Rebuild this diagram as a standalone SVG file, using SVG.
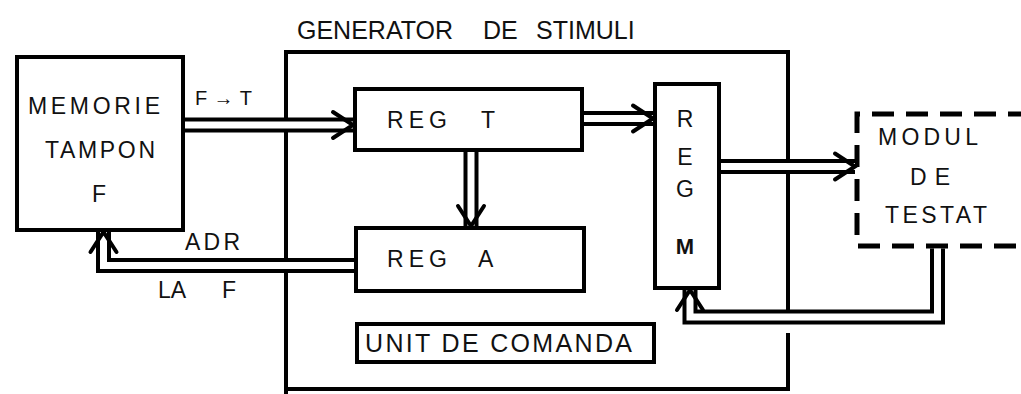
<svg xmlns="http://www.w3.org/2000/svg" xmlns:xlink="http://www.w3.org/1999/xlink" width="1021" height="394" viewBox="0 0 1021 394">
  <style>
    .box { fill: #fff; stroke: #000; stroke-width: 4; }
    .frame { fill: none; stroke: #000; stroke-width: 4; }
    .dash { fill: none; stroke: #000; stroke-width: 5; stroke-dasharray: 22 12; }
    .bus-o { fill: none; stroke: #000; stroke-width: 15; stroke-linejoin: miter; }
    .bus-i { fill: none; stroke: #fff; stroke-width: 7; stroke-linejoin: miter; }
    .head { fill: none; stroke: #000; stroke-width: 4; stroke-linejoin: miter; stroke-linecap: round; }
    text { font-family: "Liberation Sans", Arial, sans-serif; fill: #111; font-size: 23px; }
    .t20 { font-size: 20px; }
    .t25 { font-size: 25px; }
    .mid { text-anchor: middle; }
    .bold { font-weight: bold; font-size: 22px; }
  </style>
  <defs>
    <!-- open chevron arrowhead, tip at origin, pointing along +x -->
    <polyline id="chev" class="head" points="-20,-13 0,0 -20,13"/>
  </defs>

  <!-- enclosing frame -->
  <g id="generator">
    <path class="frame" d="M286,394 V52 H788 V316 M788,333 V389 H286"/>
    <text class="t25" y="39"><tspan x="297">GENERATOR</tspan> <tspan x="483">DE</tspan> <tspan x="536">STIMULI</tspan></text>
  </g>

  <g id="memorie">
    <rect class="box" x="17" y="57" width="166" height="173"/>
    <text x="28" y="114" textLength="132" lengthAdjust="spacing">MEMORIE</text>
    <text x="45" y="158" textLength="110" lengthAdjust="spacing">TAMPON</text>
    <text x="92" y="202">F</text>
  </g>

  <g id="reg-t">
    <rect class="box" x="355" y="89" width="227" height="61"/>
    <text x="387" y="128"><tspan textLength="60" lengthAdjust="spacing">REG</tspan> <tspan x="481">T</tspan></text>
  </g>

  <g id="reg-a">
    <rect class="box" x="356" y="228" width="228" height="63"/>
    <text x="387" y="267"><tspan textLength="60" lengthAdjust="spacing">REG</tspan> <tspan x="478">A</tspan></text>
  </g>

  <g id="reg-m">
    <rect class="box" x="655" y="84" width="64" height="204"/>
    <text class="mid" x="685" y="127">R</text>
    <text class="mid" x="685" y="165">E</text>
    <text class="mid" x="685" y="197">G</text>
    <text class="mid bold" x="685" y="254">M</text>
  </g>

  <g id="unitate-comanda">
    <rect class="box" x="357" y="324" width="297" height="38"/>
    <text class="t25" x="365" y="352" textLength="267" lengthAdjust="spacing">UNIT DE COMANDA</text>
  </g>

  <g id="modul-testat">
    <path class="dash" d="M1030,114 H857 V246 H1030"/>
    <text x="878" y="145" textLength="100" lengthAdjust="spacing">MODUL</text>
    <text x="910" y="185" textLength="40" lengthAdjust="spacing">DE</text>
    <text x="885" y="223" textLength="102" lengthAdjust="spacing">TESTAT</text>
  </g>

  <!-- double-line buses: black outline with white core, then chevron heads -->
  <g id="connectors">
    <path class="bus-o" d="M185,125 H353"/>
    <path class="bus-i" d="M185,125 H353"/>
    <use xlink:href="#chev" transform="translate(353,125)"/>

    <path class="bus-o" d="M584,118.5 H653"/>
    <path class="bus-i" d="M584,118.5 H653"/>
    <use xlink:href="#chev" transform="translate(653,118.5)"/>

    <path class="bus-o" d="M471,152 V226"/>
    <path class="bus-i" d="M471,152 V226"/>
    <use xlink:href="#chev" transform="translate(471,226) rotate(90)"/>

    <path class="bus-o" d="M721,166.5 H855"/>
    <path class="bus-i" d="M721,166.5 H855"/>
    <use xlink:href="#chev" transform="translate(855,166.5)"/>

    <path class="bus-o" d="M354,265.5 H103.5 V232"/>
    <path class="bus-i" d="M354,265.5 H103.5 V232"/>
    <use xlink:href="#chev" transform="translate(103.5,232) rotate(-90)"/>

    <path class="bus-o" d="M937.5,248.5 V317 H690 V290"/>
    <path class="bus-i" d="M937.5,248.5 V317 H690 V290"/>
    <use xlink:href="#chev" transform="translate(690,290) rotate(-90)"/>

    <text class="t20" x="195" y="105" textLength="57" lengthAdjust="spacing">F→T</text>
    <text x="185" y="250" textLength="55" lengthAdjust="spacing">ADR</text>
    <text x="158" y="298">LA <tspan x="222">F</tspan></text>
  </g>
</svg>
